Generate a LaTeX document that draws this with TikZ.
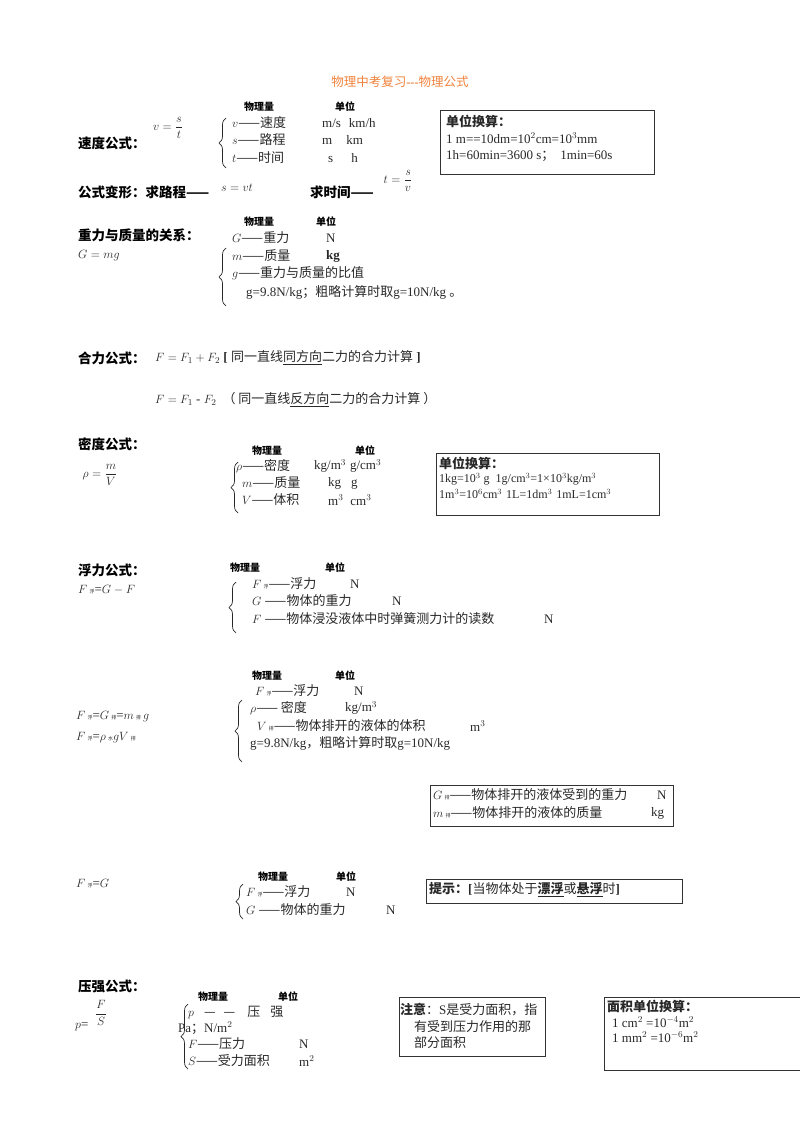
\documentclass[tikz,border=0pt]{standalone}
\usepackage{amsmath}
\usepackage{fontspec}
\setmainfont{Liberation Serif}
\newfontfamily\cjk{Noto Sans CJK SC}
\newcommand{\Z}[1]{{\cjk #1}}
\newcommand{\ZB}[1]{{\cjk\bfseries #1}}
\usetikzlibrary{decorations.pathreplacing}
\definecolor{ink}{RGB}{40,40,40}
\definecolor{orng}{RGB}{240,130,60}
\begin{document}
\begin{tikzpicture}[x=1pt,y=-1pt,
  t/.style={anchor=west,inner sep=0pt,font=\fontsize{13}{15}\selectfont,text=ink},
  hd/.style={anchor=west,inner sep=0pt,font=\fontsize{13.5}{15}\selectfont\bfseries,text=black},
  sm/.style={anchor=west,inner sep=0pt,font=\fontsize{10}{11}\selectfont\bfseries,text=black},
  bx/.style={draw=black!80,line width=0.9pt},
  br/.style={decorate,decoration={brace,amplitude=7pt},line width=0.7pt,draw=ink}]
\useasboundingbox (0,0) rectangle (800,1132);
\node[anchor=center,inner sep=0,font=\fontsize{12.5}{14}\selectfont,text=orng] (title) at (400,82) {\Z{物理中考复习}\textbf{-{}-{}-}\Z{物理公式}};
% speed
\node[hd] (h1) at (78,143) {\ZB{速度公式：}};
\node[t,anchor=center] (f1) at (168,128) {$v=\dfrac{s}{t}$};
\node[sm] (q1) at (244,107) {\ZB{物理量}};
\node[sm] (u1) at (335,107) {\ZB{单位}};
\draw[br] (226,168) -- (226,118);
\node[t] (r11) at (232,123) {$v$\Z{——速度}};
\node[t] (r12) at (232,140) {$s$\Z{——路程}};
\node[t] (r13) at (232,158) {$t$\Z{——时间}};
\node[t] (v11) at (322,123) {m/s\hspace{8pt}km/h};
\node[t] (v12) at (322,140) {m\hspace{14pt}km};
\node[t] (v13) at (328,158) {s\hspace{18pt}h};
\draw[bx] (440,110) rectangle (654,174);
\node[t] (b11) at (446,121) {\ZB{单位换算：}};
\node[t] (b12) at (446,138) {1 m==10dm=10$^2$cm=10$^3$mm};
\node[t] (b13) at (446,156) {1h=60min=3600 s\Z{；}\hspace{6pt}1min=60s};
\node[hd] (h1b) at (78,192) {\ZB{公式变形：求路程}\Z{——}};
\node[t] (f1b) at (221,188) {$s=vt$};
\node[hd] (h1c) at (310,192) {\ZB{求时间}\Z{——}};
\node[t,anchor=center] (f1c) at (398,181) {$t=\dfrac{s}{v}$};
% gravity
\node[hd] (h2) at (78,235) {\ZB{重力与质量的关系：}};
\node[t] (f2) at (78,256) {$G=mg$};
\node[sm] (q2) at (244,222) {\ZB{物理量}};
\node[sm] (u2) at (316,222) {\ZB{单位}};
\draw[br] (226,306) -- (226,248);
\node[t] (r21) at (232,238) {$G$\Z{——重力}};
\node[t] (v21) at (326,238) {N};
\node[t] (r22) at (232,256) {$m$\Z{——质量}};
\node[t] (v22) at (326,256) {\textbf{kg}};
\node[t] (r23) at (232,273) {$g$\Z{——重力与质量的比值}};
\node[t] (r24) at (246,292) {g=9.8N/kg\Z{；粗略计算时取}g=10N/kg \Z{。}};
% resultant
\node[hd] (h3) at (78,358) {\ZB{合力公式：}};
\node[t] (f31) at (155,358) {$F=F_1+F_2$ \textbf{[} \Z{同一直线\underline{同方向}二力的合力计算} \textbf{]}};
\node[t] (f32) at (155,400) {$F=F_1$ - $F_2$\hspace{6pt}\Z{（ 同一直线\underline{反方向}二力的合力计算 ）}};
% density
\node[hd] (h4) at (78,444) {\ZB{密度公式：}};
\node[t,anchor=center] (f4) at (100,475) {$\rho=\dfrac{m}{V}$};
\node[sm] (q4) at (252,451) {\ZB{物理量}};
\node[sm] (u4) at (355,451) {\ZB{单位}};
\draw[br] (238,513) -- (238,462);
\node[t] (r41) at (236,466) {$\rho$\Z{——密度}};
\node[t] (r42) at (242,483) {$m$\Z{——质量}};
\node[t] (r43) at (242,500) {$V$\Z{——体积}};
\node[t] (v41) at (314,466) {kg/m$^3$\hspace{4pt}g/cm$^3$};
\node[t] (v42) at (328,483) {kg\hspace{10pt}g};
\node[t] (v43) at (328,500) {m$^3$\hspace{7pt}cm$^3$};
\draw[bx] (436,453) rectangle (659,515);
\node[t] (b41) at (439,463) {\ZB{单位换算：}};
\node[t,font=\fontsize{12}{14}\selectfont] (b42) at (439,479) {1kg=10$^3$ g\hspace{6pt}1g/cm$^3$=1×10$^3$kg/m$^3$};
\node[t,font=\fontsize{12}{14}\selectfont] (b43) at (439,494) {1m$^3$=10$^6$cm$^3$\hspace{4pt}1L=1dm$^3$\hspace{4pt}1mL=1cm$^3$};
% buoyancy 1
\node[hd] (h5) at (78,570) {\ZB{浮力公式：}};
\node[t] (f5) at (78,590) {$F$\,\Z{\tiny 浮}=$G-F$};
\node[sm] (q5) at (230,568) {\ZB{物理量}};
\node[sm] (u5) at (325,568) {\ZB{单位}};
\draw[br] (236,633) -- (236,582);
\node[t] (r51) at (252,584) {$F$\,\Z{\tiny 浮}\Z{——浮力}};
\node[t] (v51) at (350,584) {N};
\node[t] (r52) at (252,601) {$G$ \Z{——物体的重力}};
\node[t] (v52) at (392,601) {N};
\node[t] (r53) at (252,619) {$F$ \Z{——物体浸没液体中时弹簧测力计的读数}};
\node[t] (v53) at (544,619) {N};
% buoyancy 2
\node[sm] (q6) at (252,676) {\ZB{物理量}};
\node[sm] (u6) at (335,676) {\ZB{单位}};
\draw[br] (242,762) -- (242,700);
\node[t] (r61) at (255,691) {$F$\,\Z{\tiny 浮}\Z{——浮力}};
\node[t] (v61) at (354,691) {N};
\node[t] (r62) at (250,708) {$\rho$\Z{—— 密度}};
\node[t] (v62) at (345,708) {kg/m$^3$};
\node[t] (r63) at (257,726) {$V$\,\Z{\tiny 排}\Z{——物体排开的液体的体积}};
\node[t] (v63) at (470,726) {m$^3$};
\node[t] (r64) at (250,743) {g=9.8N/kg\Z{，粗略计算时取}g=10N/kg};
\node[t] (f61) at (76,717) {$F$\,\Z{\tiny 浮}=$G$\,\Z{\tiny 排}=$m$\,\Z{\tiny 排}$\,g$};
\node[t] (f62) at (76,738) {$F$\,\Z{\tiny 浮}=$\rho$\,\Z{\tiny 水}$gV$\,\Z{\tiny 排}};
\draw[bx] (430,785) rectangle (673,826);
\node[t] (b61) at (433,795) {$G$\,\Z{\tiny 排}\Z{——物体排开的液体受到的重力}};
\node[t] (b61u) at (657,795) {N};
\node[t] (b62) at (433,813) {$m$\,\Z{\tiny 排}\Z{——物体排开的液体的质量}};
\node[t] (b62u) at (651,813) {kg};
% buoyancy 3
\node[t] (f7) at (76,884) {$F$\,\Z{\tiny 浮}=$G$};
\node[sm] (q7) at (258,877) {\ZB{物理量}};
\node[sm] (u7) at (336,877) {\ZB{单位}};
\draw[br] (243,919) -- (243,884);
\node[t] (r71) at (246,892) {$F$\,\Z{\tiny 浮}\Z{——浮力}};
\node[t] (v71) at (346,892) {N};
\node[t] (r72) at (246,910) {$G$ \Z{——物体的重力}};
\node[t] (v72) at (386,910) {N};
\draw[bx] (426,879) rectangle (682,903);
\node[t] (b71) at (429,890) {\ZB{提示：}\textbf{[}\Z{当物体处于}\underline{\ZB{漂浮}}\Z{或}\underline{\ZB{悬浮}}\Z{时}\textbf{]}};
% pressure
\node[hd] (h8) at (78,986) {\ZB{压强公式：}};
\node[t] (f8a) at (75,1027) {$p$=};
\node[t,anchor=center] (f8b) at (101,1013) {$\dfrac{F}{S}$};
\node[sm] (q8) at (198,997) {\ZB{物理量}};
\node[sm] (u8) at (278,997) {\ZB{单位}};
\draw[br] (188,1069) -- (188,1004);
\node[t] (r81) at (188,1013) {$p$\hspace{10pt}\Z{—\hspace{8pt}—\hspace{12pt}压\hspace{10pt}强}};
\node[t] (r82) at (178,1028) {Pa\Z{；}N/m$^2$};
\node[t] (r83) at (188,1044) {$F$\Z{——压力}};
\node[t] (v83) at (299,1044) {N};
\node[t] (r84) at (188,1061) {$S$\Z{——受力面积}};
\node[t] (v84) at (299,1061) {m$^2$};
\draw[bx] (399,997) rectangle (545,1056);
\node[t] (b81) at (400,1010) {\ZB{注意}\Z{：}S\Z{是受力面积，指}};
\node[t] (b82) at (414,1027) {\Z{有受到压力作用的那}};
\node[t] (b83) at (414,1043) {\Z{部分面积}};
\draw[bx] (604,997) rectangle (800,1070);
\node[t] (b84) at (607,1006) {\ZB{面积单位换算：}};
\node[t] (b85) at (612,1022) {1 cm$^2$ =10$^{-4}$m$^2$};
\node[t] (b86) at (612,1037) {1 mm$^2$ =10$^{-6}$m$^2$};
\end{tikzpicture}
\end{document}
